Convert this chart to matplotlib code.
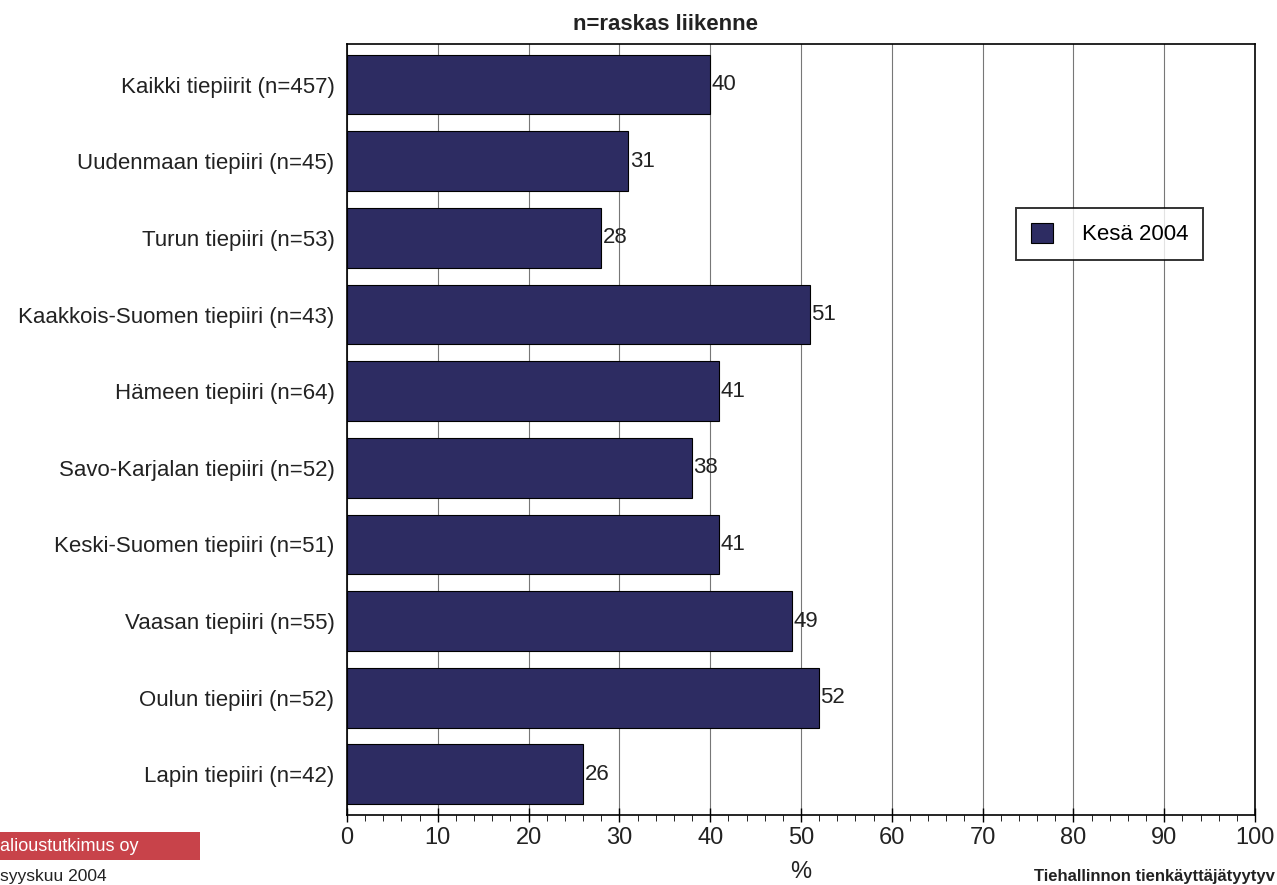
import matplotlib.pyplot as plt
from matplotlib.ticker import MultipleLocator
from matplotlib.patches import Rectangle
import numpy as np

categories = [
    "Kaikki tiepiirit (n=457)",
    "Uudenmaan tiepiiri (n=45)",
    "Turun tiepiiri (n=53)",
    "Kaakkois-Suomen tiepiiri (n=43)",
    "Hämeen tiepiiri (n=64)",
    "Savo-Karjalan tiepiiri (n=52)",
    "Keski-Suomen tiepiiri (n=51)",
    "Vaasan tiepiiri (n=55)",
    "Oulun tiepiiri (n=52)",
    "Lapin tiepiiri (n=42)",
]
values = [40, 31, 28, 51, 41, 38, 41, 49, 52, 26]
series_name = "Kesä 2004"
title = "n=raskas liikenne"

plt.rcParams["font.family"] = ["Liberation Sans", "DejaVu Sans"]
bar_color = "#2d2c62"
fs = 16

fig = plt.figure(figsize=(12.77, 8.85), dpi=100)
ax = fig.add_axes([0.2717, 0.0791, 0.7111, 0.8712])

y = np.arange(len(categories))
ax.barh(y, values, height=0.78, color=bar_color, edgecolor="black",
        linewidth=0.8, label=series_name, zorder=3)
for yi, v in zip(y, values):
    ax.text(v + 0.15, yi, str(v), va="center", ha="left", fontsize=fs,
            color="#222222", zorder=4)

ax.set_xlim(0, 100)
ax.set_ylim(len(categories) - 0.47, -0.53)
ax.set_yticks(y)
ax.set_yticklabels(categories, fontsize=fs, color="#222222")
ax.set_xticks(range(0, 101, 10))
ax.tick_params(axis="x", labelsize=fs + 1, labelcolor="#222222",
               direction="inout", length=10, width=1, pad=4)
ax.xaxis.set_minor_locator(MultipleLocator(2))
ax.tick_params(axis="x", which="minor", direction="out", length=4)
ax.tick_params(axis="y", length=0, pad=9)
ax.grid(axis="x", color="#777777", linewidth=0.8, zorder=0)
for s in ax.spines.values():
    s.set_linewidth(1.2)

# title sits left of the axes centre in the original
ax.text(0.351, 1.012, title, transform=ax.transAxes, fontsize=fs,
        fontweight="bold", color="#222222", ha="center", va="bottom")
ax.set_xlabel("%", fontsize=fs + 1, color="#222222", labelpad=8)

leg = ax.legend(loc="upper left", bbox_to_anchor=(0.737, 0.787), fontsize=fs,
                frameon=True, fancybox=False, edgecolor="black",
                borderpad=0.65, handlelength=1.0, handleheight=1.0,
                handletextpad=1.3, borderaxespad=0)
leg.get_frame().set_linewidth(1.4)

# logo and footer texts
fig.patches.append(Rectangle((0, 0.028), 0.157, 0.032, transform=fig.transFigure,
                             facecolor="#c8434a", edgecolor="none"))
fig.text(0.0, 0.044, "alioustutkimus oy", fontsize=13, color="white",
         va="center", ha="left")
fig.text(0.0, 0.010, "syyskuu 2004", fontsize=12.5, color="#222222",
         va="center", ha="left")
fig.text(0.998, 0.010, "Tiehallinnon tienkäyttäjätyytyv", fontsize=12,
         fontweight="bold", color="#222222", va="center", ha="right")

fig.savefig("out.png", dpi=100)
